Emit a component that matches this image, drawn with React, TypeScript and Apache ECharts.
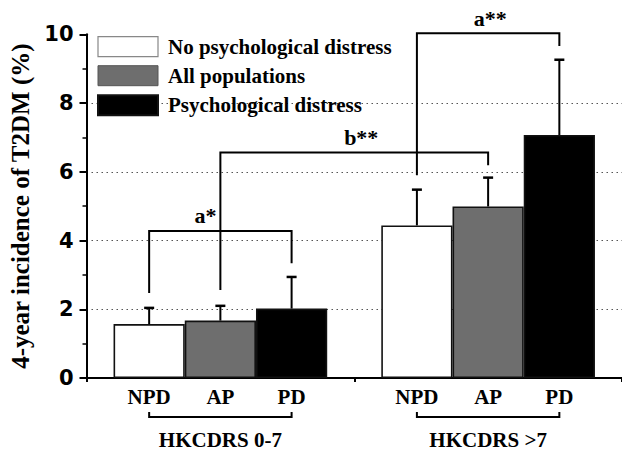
import React, { useEffect, useRef } from "react";
import * as echarts from "echarts";

// ---- data ----
const groups = ["HKCDRS 0-7", "HKCDRS >7"];
const subLabels = ["NPD", "AP", "PD"];
const seriesNames = ["No psychological distress", "All populations", "Psychological distress"];
const npdValues = [1.57, 4.44];
const apValues = [1.67, 4.99];
const pdValues = [2.02, 7.07];
const npdErrTop = [2.04, 5.48];
const apErrTop = [2.1, 5.83];
const pdErrTop = [2.94, 9.26];
const yTicks = [0, 2, 4, 6, 8, 10];

// significance brackets: from [group, bar] to [group, bar]
const bracketLabels = ["a*", "b**", "a**"];
const bracketFrom = [[0, 0], [0, 1], [1, 0]];
const bracketTo = [[0, 2], [1, 1], [1, 2]];
const bracketTop = [4.28, 6.56, 10.03];
const bracketLeftEnd = [2.47, 2.56, 5.9];
const bracketRightEnd = [3.34, 6.19, 9.66];

// ---- style ----
const BAR_FRAC = 0.266;
const SERIF = "Liberation Serif";
const colors = ["#ffffff", "#6e6e6e", "#000000"];
const labelDx = [-15, 7, 2];

export default function App() {
  const ref = useRef<HTMLDivElement>(null);
  useEffect(() => {
    const chart = echarts.init(ref.current!, null, { renderer: "svg" });
    const values = [npdValues, apValues, pdValues];
    const errs = [npdErrTop, apErrTop, pdErrTop];

    const barSeries = seriesNames.map((name, s) => ({
      name,
      type: "bar",
      data: values[s],
      barWidth: BAR_FRAC * 100 + "%",
      barGap: "0%",
      z: 2,
      itemStyle: { color: colors[s], borderColor: "#111", borderWidth: 1.6 },
    }));

    const errData: number[][] = [];
    for (let s = 0; s < 3; s++)
      for (let g = 0; g < groups.length; g++) errData.push([g, s, values[s][g], errs[s][g]]);

    const bracketData = bracketLabels.map((_, i) => [
      bracketFrom[i][0], bracketFrom[i][1], bracketTo[i][0], bracketTo[i][1],
      bracketTop[i], bracketLeftEnd[i], bracketRightEnd[i], i,
    ]);

    const barX = (api: any, g: number, b: number) => {
      const catW = api.size([1, 0])[0];
      return api.coord([g, 0])[0] + (b - 1) * catW * BAR_FRAC;
    };

    const option: any = {
      animation: false,
      grid: { left: 86.5, top: 34.3, width: 548, height: 344 },
      legend: {
        orient: "vertical",
        left: 97,
        top: 36,
        padding: 0,
        itemWidth: 60,
        itemHeight: 20,
        itemGap: 8,
        icon: "rect",
        data: [
          { name: seriesNames[0], itemStyle: { borderColor: "#888", borderWidth: 1.2 } },
          { name: seriesNames[1], itemStyle: { borderColor: "#555", borderWidth: 1 } },
          { name: seriesNames[2] },
        ],
        textStyle: { fontFamily: SERIF, fontWeight: "bold", fontSize: 21, color: "#000", padding: [0, 0, 0, 5] },
      },
      xAxis: {
        type: "category",
        data: groups,
        axisLine: { lineStyle: { color: "#000", width: 2 } },
        axisTick: { show: true, length: 4, lineStyle: { color: "#000", width: 2 } },
        axisLabel: { margin: 51, fontFamily: SERIF, fontWeight: "bold", fontSize: 21, color: "#000" },
      },
      yAxis: {
        type: "value",
        min: yTicks[0],
        max: yTicks[yTicks.length - 1],
        interval: 2,
        name: "4-year incidence of T2DM (%)",
        nameLocation: "middle",
        nameGap: 51,
        nameTextStyle: { fontFamily: SERIF, fontWeight: "bold", fontSize: 25, color: "#000" },
        axisLine: { show: true, lineStyle: { color: "#000", width: 2 } },
        axisTick: { show: true, length: 7, lineStyle: { color: "#000", width: 2 } },
        minorTick: { show: true, splitNumber: 2, length: 4, lineStyle: { color: "#000", width: 1.5 } },
        axisLabel: { margin: 13, fontFamily: "DejaVu Sans", fontWeight: "bold", fontSize: 21, color: "#000" },
        splitLine: { show: true, showMaxLine: false, showMinLine: false, lineStyle: { color: "#555", width: 1, type: [1.5, 3.5] } },
      },
      series: [
        ...barSeries,
        {
          type: "custom",
          name: "err",
          z: 3,
          data: errData,
          renderItem: (params: any, api: any) => {
            const g = api.value(0), s = api.value(1), v = api.value(2), e = api.value(3);
            const cx = barX(api, g, s);
            const y0 = api.coord([g, v])[1];
            const y1 = api.coord([g, e])[1];
            return {
              type: "group",
              children: [
                { type: "line", shape: { x1: cx, y1: y0, x2: cx, y2: y1 }, style: { stroke: "#000", lineWidth: 2 } },
                { type: "line", shape: { x1: cx - 5, y1: y1, x2: cx + 5, y2: y1 }, style: { stroke: "#000", lineWidth: 2.5 } },
              ],
            };
          },
        },
        {
          type: "custom",
          name: "brackets",
          z: 4,
          clip: false,
          data: bracketData,
          renderItem: (params: any, api: any) => {
            const x1 = barX(api, api.value(0), api.value(1));
            const x2 = barX(api, api.value(2), api.value(3));
            const yt = api.coord([0, api.value(4)])[1];
            const yl = api.coord([0, api.value(5)])[1];
            const yr = api.coord([0, api.value(6)])[1];
            const i = api.value(7);
            return {
              type: "group",
              children: [
                {
                  type: "polyline",
                  shape: { points: [[x1, yl], [x1, yt], [x2, yt], [x2, yr]] },
                  style: { stroke: "#000", lineWidth: 2, fill: null },
                },
                {
                  type: "text",
                  x: (x1 + x2) / 2 + labelDx[i],
                  y: yt - 4,
                  style: {
                    text: bracketLabels[i],
                    fontFamily: SERIF,
                    fontWeight: "bold",
                    fontSize: 22,
                    fill: "#000",
                    align: "center",
                    verticalAlign: "bottom",
                  },
                },
              ],
            };
          },
        },
        {
          type: "custom",
          name: "sublabels",
          z: 4,
          clip: false,
          data: groups.map((_, g) => [g]),
          renderItem: (params: any, api: any) => {
            const g = api.value(0);
            const y0 = api.coord([g, 0])[1];
            const xs = subLabels.map((_, b) => barX(api, g, b));
            const children: any[] = subLabels.map((t, b) => ({
              type: "text",
              x: xs[b],
              y: y0 + 19,
              style: {
                text: t,
                fontFamily: SERIF,
                fontWeight: "bold",
                fontSize: 21,
                fill: "#000",
                align: "center",
                verticalAlign: "middle",
              },
            }));
            children.push({
              type: "polyline",
              shape: { points: [[xs[0], y0 + 34], [xs[0], y0 + 39], [xs[2], y0 + 39], [xs[2], y0 + 34]] },
              style: { stroke: "#000", lineWidth: 2, fill: null },
            });
            return { type: "group", children };
          },
        },
      ],
    };
    chart.setOption(option);
    return () => chart.dispose();
  }, []);
  return <div ref={ref} style={{ position: "absolute", left: 0, top: 0, width: 622, height: 450 }} />;
}
